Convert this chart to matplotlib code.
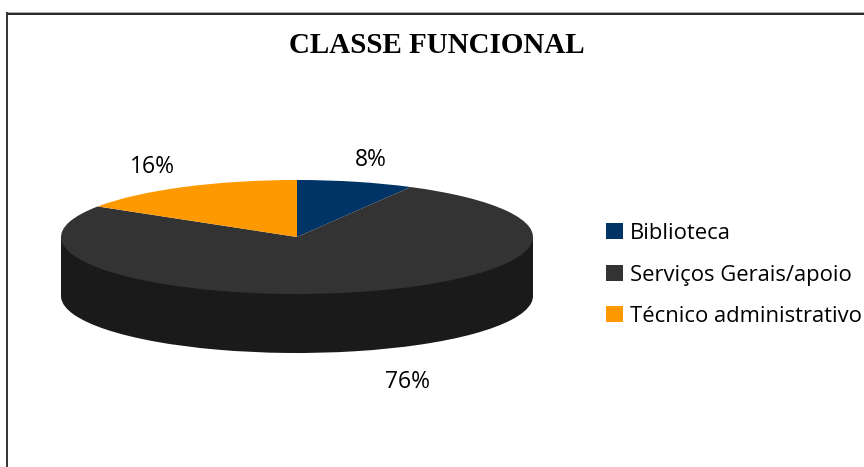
#!/usr/bin/env python3
import matplotlib
matplotlib.use("Agg")
import matplotlib.pyplot as plt
from matplotlib.lines import Line2D
from matplotlib.patches import Patch, Rectangle

W, H = 864, 467

categories = ["Biblioteca", "Serviços Gerais/apoio", "Técnico administrativo"]
values = [8, 76, 16]
colors = ["#003366", "#333333", "#FF9900"]
side_color = "#1A1A1A"

fig = plt.figure(figsize=(W / 100, H / 100), dpi=100)

# chart frame, only top and left show in the original
fig.add_artist(Line2D([6.5 / W, 1], [1 - 13.5 / H] * 2, color="black", lw=1.2))
fig.add_artist(Line2D([6.5 / W, 1], [1 - 12.2 / H] * 2, color="#AAAAAA", lw=0.7))
fig.add_artist(Line2D([7 / W] * 2, [0, 1 - 13 / H], color="#333333", lw=1.4))

# squashed axes: the top of the pie is an ellipse 472 x 114 px
ax = fig.add_axes([61 / W, 1 - 294 / H, 472 / W, 114 / H])
depth = 59 / 57

# thickness first, then the top face over it
ax.add_patch(Rectangle((-1, -depth), 2, depth, color=side_color, lw=0))
ax.pie(values, colors=[side_color] * 3, startangle=90, counterclock=False,
       center=(0, -depth), radius=1)
wedges, _ = ax.pie(values, colors=colors, startangle=90, counterclock=False,
                   radius=1, wedgeprops={"edgecolor": "none"})
ax.set_aspect("auto")
ax.set_xlim(-1, 1)
ax.set_ylim(-1, 1)
ax.axis("off")
for a in ax.get_children():
    a.set_clip_on(False)

# percent labels, same order as values
label_pos = [(371, 160), (407, 382), (152, 167)]
for (px, py), v in zip(label_pos, values):
    fig.text(px / W, 1 - py / H, f"{v}%", ha="center", va="center",
             fontsize=16.5, family="Open Sans", color="black")

fig.text(437 / W, 1 - 45 / H, "CLASSE FUNCIONAL", ha="center", va="center",
         fontsize=20.9, family="Liberation Serif", fontweight="bold", color="black")

handles = [Patch(facecolor=c, edgecolor="none") for c in colors]
fig.legend(handles, categories, loc="center left", bbox_to_anchor=(606 / W, 1 - 275 / H),
           frameon=False, prop={"family": "Open Sans", "size": 15.8},
           labelspacing=0.93, handlelength=0.78, handleheight=0.75, handletextpad=0.32,
           borderaxespad=0, borderpad=0)

fig.savefig("out.png", dpi=100)
